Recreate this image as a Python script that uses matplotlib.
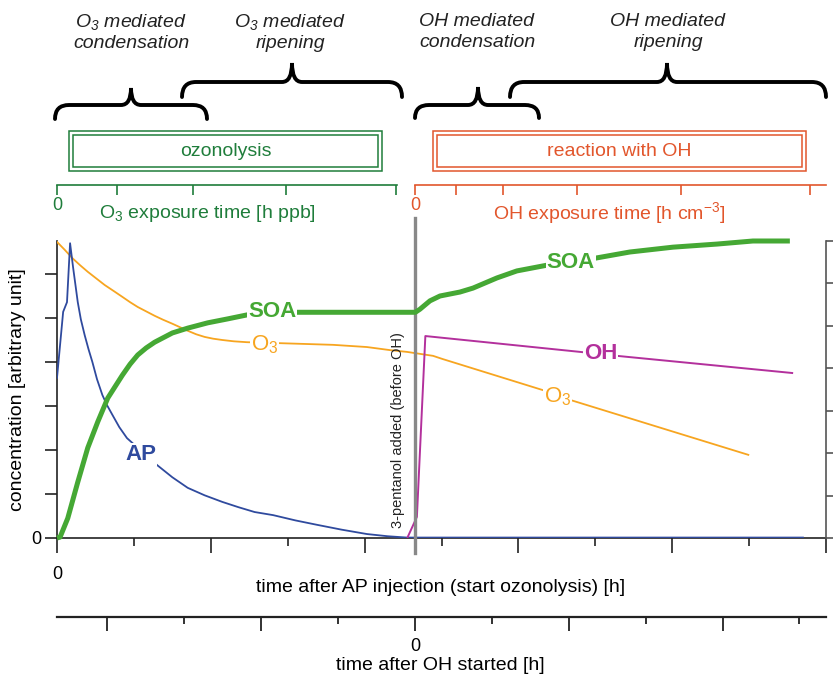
import numpy as np
import matplotlib.pyplot as plt
from matplotlib.path import Path
from matplotlib.patches import PathPatch, Rectangle

plt.rcParams['font.family'] = ['Liberation Sans', 'DejaVu Sans']
plt.rcParams['mathtext.fontset'] = 'custom'
plt.rcParams['mathtext.rm'] = 'Liberation Sans'
plt.rcParams['mathtext.it'] = 'Liberation Sans:italic'
plt.rcParams['mathtext.bf'] = 'Liberation Sans:bold'
plt.rcParams['mathtext.default'] = 'regular'

# colours
c_soa = '#45a834'
c_o3 = '#f7a520'
c_ap = '#2f4a9e'
c_oh = '#b3309c'
c_green = '#1f7d3b'
c_red = '#e2562c'
c_axis = '#222222'

# time of OH start (in tick units of the lower time axis)
oh_start = 4.655

# curves (x: time ticks, y: left axis ticks)
soa_t = [0, 0.04, 0.14, 0.27, 0.40, 0.53, 0.66, 0.85, 0.95, 1.05, 1.16, 1.27, 1.50, 1.70,
         1.96, 2.22, 2.47, 3.09, 4.66, 4.72, 4.85, 4.98, 5.24, 5.41, 5.72, 5.98, 6.37,
         7.0, 7.45, 8.01, 8.58, 9.05, 9.53]
soa_c = [0, 0.02, 0.45, 1.27, 2.05, 2.64, 3.18, 3.70, 3.95, 4.16, 4.32, 4.45, 4.66, 4.77,
         4.89, 4.98, 5.07, 5.13, 5.13, 5.20, 5.39, 5.50, 5.59, 5.68, 5.91, 6.07, 6.20,
         6.36, 6.50, 6.61, 6.68, 6.75, 6.75]

o3_t = [0, 0.10, 0.20, 0.30, 0.40, 0.51, 0.62, 0.74, 0.85, 0.95, 1.05, 1.16, 1.27, 1.38,
        1.50, 1.60, 1.70, 1.81, 1.92, 2.03, 2.15, 2.30, 2.47, 2.86, 3.59, 4.03, 4.33,
        4.55, 4.89, 5.01, 6.32, 6.67, 8.99]
o3_c = [6.73, 6.55, 6.36, 6.20, 6.05, 5.90, 5.75, 5.61, 5.48, 5.36, 5.25, 5.15, 5.05, 4.96,
        4.87, 4.79, 4.71, 4.63, 4.57, 4.53, 4.50, 4.47, 4.45, 4.43, 4.39, 4.34, 4.27,
        4.23, 4.14, 4.07, 3.36, 3.14, 1.89]

ap_t = [0, 0.08, 0.13, 0.17, 0.21, 0.27, 0.31, 0.36, 0.41, 0.46, 0.52, 0.59, 0.65, 0.72,
        0.81, 0.91, 1.30, 1.50, 1.70, 1.92, 2.15, 2.36, 2.57, 2.81, 3.10, 3.38, 3.70, 4.03,
        4.30, 4.55, 9.70]
ap_c = [3.64, 5.14, 5.36, 6.70, 6.14, 5.36, 4.97, 4.61, 4.29, 4.00, 3.61, 3.25, 3.02, 2.80,
        2.52, 2.27, 1.66, 1.38, 1.14, 0.97, 0.82, 0.70, 0.59, 0.52, 0.40, 0.30, 0.19, 0.09,
        0.04, 0.01, 0.01]

oh_t = [4.56, 4.68, 4.79, 6.80, 7.28, 9.56]
oh_c = [0.02, 0.48, 4.59, 4.23, 4.14, 3.75]

# curve labels: (text, x, y, colour, weight)
curve_labels = [
    ('SOA', 2.80, 5.14, c_soa, 'bold'),
    ('O$_3$', 2.70, 4.39, c_o3, 'normal'),
    ('AP', 1.09, 1.89, c_ap, 'bold'),
    ('SOA', 6.68, 6.27, c_soa, 'bold'),
    ('O$_3$', 6.51, 3.20, c_o3, 'normal'),
    ('OH', 7.07, 4.20, c_oh, 'bold'),
]

# exposure axes ticks
o3_exp_ticks = [0, 0.78, 1.77, 2.98, 4.41]
oh_exp_ticks = [0, 0.53, 1.14, 2.11, 3.46, 5.14]

W, H = 833, 675
fig = plt.figure(figsize=(W / 100, H / 100), dpi=100)

# ---- main axes ----
ax = fig.add_axes([57 / W, (H - 538) / H, 769 / W, 297 / H])
ax.set_xlim(0, 10)
ax.set_ylim(0, 6.75)
ax.patch.set_alpha(0)

ax.plot(o3_t, o3_c, color=c_o3, lw=1.3, zorder=3)
ax.plot(ap_t, ap_c, color=c_ap, lw=1.3, zorder=3)
ax.plot(oh_t, oh_c, color=c_oh, lw=1.4, zorder=3)
ax.plot(soa_t, soa_c, color=c_soa, lw=3.6, zorder=4, clip_on=False, solid_capstyle='butt')
ax.axvline(oh_start, ymin=-0.05, ymax=1.077, color='#888888', lw=2.4, zorder=3.5,
           clip_on=False)

for txt, x, y, col, wt in curve_labels:
    ax.text(x, y, txt, color=col, fontsize=16, fontweight=wt, ha='center', va='center',
            zorder=6, bbox=dict(facecolor='white', edgecolor='none', pad=0.6))

ax.text(4.43, 2.45, '3-pentanol added (before OH)', rotation=90, ha='center', va='center',
        fontsize=10.5, color='#222222', zorder=6)

for s in ['top', 'right']:
    ax.spines[s].set_visible(False)
for s in ['left', 'bottom']:
    ax.spines[s].set_linewidth(1.2)
    ax.spines[s].set_color(c_axis)
ax.set_xticks(range(0, 11, 2))
ax.set_xticklabels(['0', '', '', '', '', ''])
ax.set_xticks(range(1, 10, 2), minor=True)
ax.set_yticks(range(7))
ax.set_yticklabels(['0'] + [''] * 6)
ax.tick_params(axis='x', which='major', length=11, width=1.2, pad=9, labelsize=13,
               color=c_axis)
ax.tick_params(axis='x', which='minor', length=5.5, width=1.2, color=c_axis)
ax.tick_params(axis='y', length=9, width=1.2, pad=2, labelsize=13, color=c_axis)
ax.set_ylabel('concentration [arbitrary unit]', fontsize=14, va='center')
ax.yaxis.set_label_coords(-0.052, 0.5)

# right axis
axr = ax.twinx()
axr.set_ylim(0, 7)
axr.set_yticks(range(8))
axr.set_yticklabels([])
for s in ['top', 'left', 'bottom']:
    axr.spines[s].set_visible(False)
axr.spines['right'].set_color('#555555')
axr.spines['right'].set_linewidth(1.2)
axr.tick_params(axis='y', length=8, width=1.2, color='#555555')

fig.text(441 / W, 1 - 588 / H, 'time after AP injection (start ozonolysis) [h]',
         ha='center', va='center', fontsize=14)

# ---- second time axis (time after OH started) ----
ax3 = fig.add_axes([57 / W, (H - 617) / H, 769 / W, 0.0001])
ax3.set_xlim(-oh_start, 10 - oh_start)
ax3.patch.set_alpha(0)
ax3.set_yticks([])
for s in ['top', 'left', 'right']:
    ax3.spines[s].set_visible(False)
ax3.spines['bottom'].set_linewidth(1.6)
ax3.spines['bottom'].set_color(c_axis)
ax3.set_xticks([-4, -2, 0, 2, 4])
ax3.set_xticklabels(['', '', '0', '', ''])
ax3.set_xticks([-3, -1, 1, 3, 5], minor=True)
ax3.tick_params(axis='x', which='major', length=10, width=1.3, pad=5, labelsize=13,
                color=c_axis)
ax3.tick_params(axis='x', which='minor', length=5, width=1.3, color=c_axis)
fig.text(440 / W, 1 - 665 / H, 'time after OH started [h]', ha='center', va='center',
         fontsize=14)

# ---- exposure axes ----
def exposure_axis(x0, x1, ticks, color):
    a = fig.add_axes([x0 / W, (H - 185) / H, (x1 - x0) / W, 0.0001])
    a.set_xlim(0, (x1 - x0) / 76.9)
    a.patch.set_alpha(0)
    a.set_yticks([])
    for s in ['top', 'left', 'right']:
        a.spines[s].set_visible(False)
    a.spines['bottom'].set_color(color)
    a.spines['bottom'].set_linewidth(1.2)
    a.set_xticks(ticks)
    a.set_xticklabels(['0'] + [''] * (len(ticks) - 1))
    a.tick_params(axis='x', length=7, width=1.2, color=color, labelcolor=color,
                  labelsize=13, pad=2)
    return a

exposure_axis(57, 397, o3_exp_ticks, c_green)
exposure_axis(415, 826, oh_exp_ticks, c_red)
fig.text(207 / W, 1 - 213 / H, 'O$_3$ exposure time [h ppb]', ha='center', va='center',
         fontsize=14, color=c_green)
fig.text(609 / W, 1 - 213 / H, 'OH exposure time [h cm$^{-3}$]', ha='center',
         va='center', fontsize=14, color=c_red)

# ---- overlay for boxes and braces (pixel coordinates) ----
ov = fig.add_axes([0, 0, 1, 1])
ov.set_xlim(0, W)
ov.set_ylim(H, 0)
ov.axis('off')
ov.patch.set_alpha(0)


def draw_brace(x0, x1, xc, y_end, y_mid, y_tip, r=14, rt=10):
    verts = [(x0, y_end), (x0, y_mid), (x0 + r, y_mid),
             (xc - rt, y_mid),
             (xc, y_mid), (xc, y_tip),
             (xc, y_mid), (xc + rt, y_mid),
             (x1 - r, y_mid),
             (x1, y_mid), (x1, y_end)]
    codes = [Path.MOVETO, Path.CURVE3, Path.CURVE3, Path.LINETO,
             Path.CURVE3, Path.CURVE3, Path.CURVE3, Path.CURVE3,
             Path.LINETO, Path.CURVE3, Path.CURVE3]
    ov.add_patch(PathPatch(Path(verts, codes), facecolor='none', edgecolor='black',
                           lw=2.8, capstyle='round'))


draw_brace(55, 207, 131, 119, 105, 88)
draw_brace(182, 402, 292, 97, 82, 63)
draw_brace(415, 539, 478, 118, 105, 87)
draw_brace(510, 826, 667, 97, 82, 63)

phase_labels = [('O$_3$ mediated\ncondensation', 131), ('O$_3$ mediated\nripening', 290),
                ('OH mediated\ncondensation', 477), ('OH mediated\nripening', 668)]
for txt, xc in phase_labels:
    ov.text(xc, 32, txt, ha='center', va='center', fontsize=14, style='italic',
            color='#222222', linespacing=1.3)


def double_box(x0, x1, color, label):
    ov.add_patch(Rectangle((x0, 131), x1 - x0, 40, facecolor='none', edgecolor=color,
                           lw=1.1))
    ov.add_patch(Rectangle((x0 + 4, 135), x1 - x0 - 8, 32, facecolor='none',
                           edgecolor=color, lw=1.1))
    ov.text((x0 + x1) / 2, 152, label, ha='center', va='center', fontsize=14, color=color)


double_box(69, 382, c_green, 'ozonolysis')
double_box(433, 806, c_red, 'reaction with OH')

fig.savefig('out.png', dpi=100)
